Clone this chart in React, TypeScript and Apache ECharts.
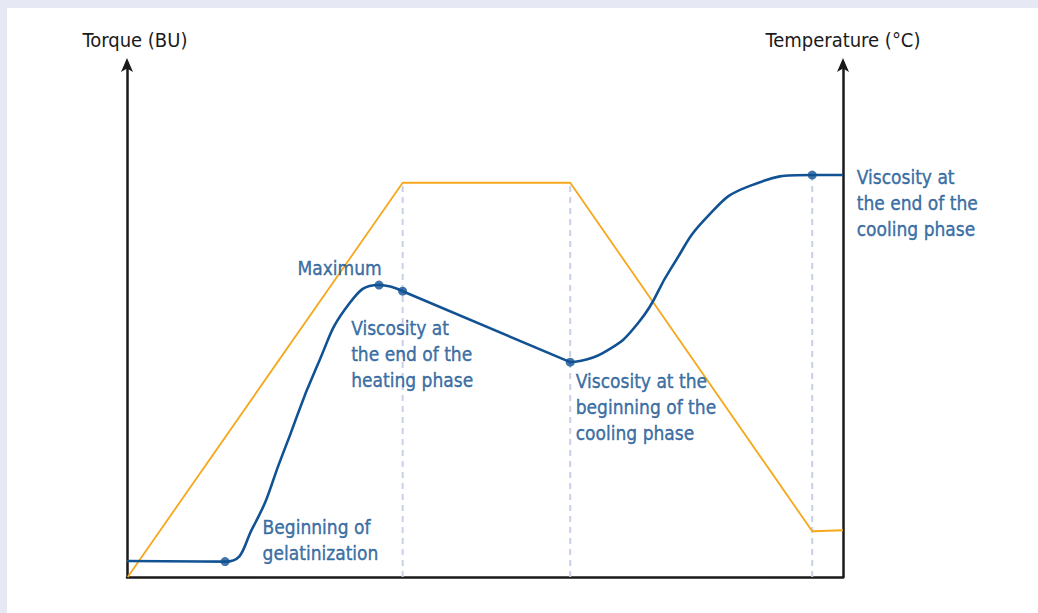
import React, { useEffect, useRef } from "react";
import * as echarts from "echarts";

// Normalized time (0-100) and values (0-100)
// Heating phase torque (smooth rise to maximum)
const heatX = [0, 13.7, 17.6, 21.8, 26.5, 31.1, 35.2, 38.5];
const heatY = [3.1, 3.0, 9.7, 24.1, 40.9, 53.3, 56.8, 55.6];
// Holding phase torque (breakdown, straight)
const holdX = [38.5, 61.9];
const holdY = [55.6, 41.8];
// Cooling phase torque (setback)
const coolX = [61.9, 66.5, 71.5, 76.0, 81.0, 87.0, 95.7, 100];
const coolY = [41.8, 43.6, 49.6, 60.1, 70.0, 76.1, 78.2, 78.2];

const tempX = [0.1, 38.5, 61.9, 95.7, 100];
const tempY = [0, 76.7, 76.7, 8.9, 9.1];

const keyLabels = [
  "Beginning of\ngelatinization",
  "Maximum",
  "Viscosity at\nthe end of the\nheating phase",
  "Viscosity at the\nbeginning of the\ncooling phase",
  "Viscosity at\nthe end of the\ncooling phase",
];
const keyX = [13.7, 35.2, 38.5, 61.9, 95.7];
const keyY = [3.0, 56.8, 55.6, 41.8, 78.2];
// label offsets (px) relative to point
const keyOffsets: [number, number][] = [
  [33, -22],
  [-86, -17],
  [-56, 63],
  [1, 45],
  [40, 28],
];

const guideX = [38.5, 61.9, 95.7];
const guideTop = [76.7, 76.7, 78.2];

const BLUE = "#115293";
const TEXT_BLUE = "#0d4f8f";
const ORANGE = "#f5a81c";
const FONT = "'DejaVu Sans Condensed', 'Liberation Sans Narrow', sans-serif";

export default function App() {
  const ref = useRef<HTMLDivElement>(null);
  useEffect(() => {
    if (!ref.current) return;
    const chart = echarts.init(ref.current, undefined, { renderer: "svg" });
    const guideSeries = guideX.map((x, i) => ({
      type: "line",
      xAxisIndex: 0,
      yAxisIndex: 0,
      data: [
        [x, 0],
        [x, guideTop[i]],
      ],
      symbol: "none",
      silent: true,
      z: 1,
      lineStyle: { color: "#c8d0e8", width: 2, type: [6, 5] },
    }));
    const torqueSeg = (xs: number[], ys: number[], smooth: number | boolean) => ({
      type: "line",
      name: "Torque",
      yAxisIndex: 0,
      data: xs.map((x, i) => [x, ys[i]]),
      symbol: "none",
      smooth,
      z: 3,
      lineStyle: { color: BLUE, width: 2.6 },
    });
    const axisLineStyle = {
      show: true,
      symbol: ["none", "arrow"],
      symbolSize: [9, 14],
      symbolOffset: [0, 5],
      lineStyle: { color: "#1a1a1a", width: 2.5 },
    };
    chart.setOption({
      animation: false,
      backgroundColor: "#ffffff",
      textStyle: { fontFamily: FONT },
      grid: { left: 120, right: 195, top: 55, bottom: 36 },
      xAxis: {
        type: "value",
        min: 0,
        max: 100,
        axisLine: { lineStyle: { color: "#1a1a1a", width: 2.5 } },
        axisTick: { show: false },
        axisLabel: { show: false },
        splitLine: { show: false },
      },
      yAxis: [
        {
          type: "value",
          min: 0,
          max: 100,
          position: "left",
          name: "Torque (BU)",
          nameLocation: "end",
          nameGap: 13,
          nameTextStyle: { fontSize: 20, color: "#1a1a1a", fontFamily: FONT, padding: [0, 0, 0, 16] },
          axisLine: axisLineStyle,
          axisTick: { show: false },
          axisLabel: { show: false },
          splitLine: { show: false },
        },
        {
          type: "value",
          min: 0,
          max: 100,
          position: "right",
          name: "Temperature (°C)",
          nameLocation: "end",
          nameGap: 13,
          nameTextStyle: { fontSize: 20, color: "#1a1a1a", fontFamily: FONT },
          axisLine: axisLineStyle,
          axisTick: { show: false },
          axisLabel: { show: false },
          splitLine: { show: false },
        },
      ],
      series: [
        ...guideSeries,
        {
          type: "line",
          name: "Temperature",
          yAxisIndex: 1,
          data: tempX.map((x, i) => [x, tempY[i]]),
          symbol: "none",
          z: 2,
          lineStyle: { color: ORANGE, width: 1.8 },
        },
        torqueSeg(heatX, heatY, 0.5),
        torqueSeg(holdX, holdY, false),
        torqueSeg(coolX, coolY, 0.5),
        {
          type: "scatter",
          yAxisIndex: 0,
          symbolSize: 9,
          z: 4,
          itemStyle: { color: BLUE },
          data: keyX.map((x, i) => ({
            value: [x, keyY[i]],
            label: {
              show: true,
              formatter: keyLabels[i],
              position: "right",
              distance: 0,
              offset: keyOffsets[i],
              align: "left",
              verticalAlign: "middle",
              color: TEXT_BLUE,
              fontSize: 19,
              lineHeight: 26,
              fontFamily: FONT,
              textBorderColor: TEXT_BLUE,
              textBorderWidth: 0.4,
            },
          })),
        },
      ],
    });
    return () => chart.dispose();
  }, []);
  return (
    <div style={{ position: "fixed", left: 0, top: 0, width: 1038, height: 613, background: "#e6e9f3" }}>
      <div ref={ref} style={{ position: "absolute", left: 7, top: 8, width: 1031, height: 605, background: "#fff" }} />
    </div>
  );
}
